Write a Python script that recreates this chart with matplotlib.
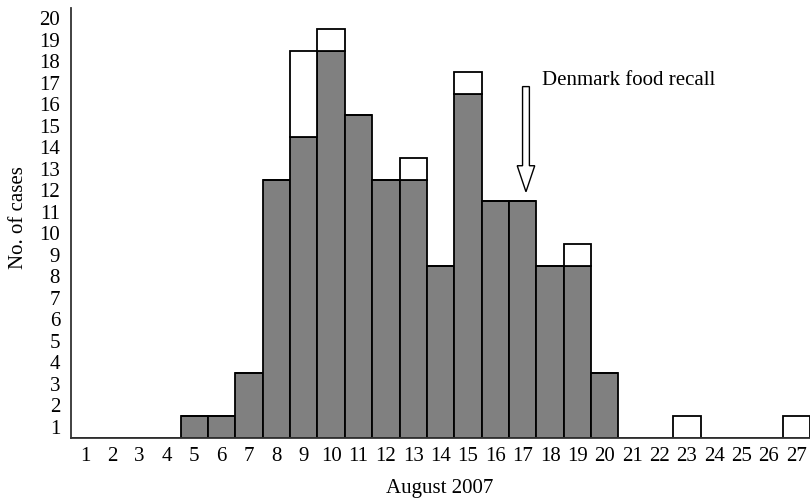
import matplotlib
matplotlib.use("Agg")
import matplotlib.pyplot as plt
from matplotlib.patches import FancyArrow

days = list(range(1, 28))
gray_cases = [0, 0, 0, 0, 1, 1, 3, 12, 14, 18, 15, 12, 12, 8, 16, 11, 11, 8, 8, 3, 0, 0, 0, 0, 0, 0, 0]
white_cases = [0, 0, 0, 0, 0, 0, 0, 0, 4, 1, 0, 0, 1, 0, 1, 0, 0, 0, 1, 0, 0, 0, 1, 0, 0, 0, 1]
y_labels = list(range(1, 21))

plt.rcParams['font.family'] = ['Liberation Serif', 'DejaVu Serif']

fig = plt.figure(figsize=(8.1, 5.0), dpi=100)
left_px, right_px = 71.2, 810.0
ax = fig.add_axes([left_px / 810, 1 - 437.7 / 500, (right_px - left_px) / 810, 430 / 500])

ax.bar(days, gray_cases, width=1.0, color='#808080', edgecolor='black', linewidth=1.3, zorder=2)
ax.bar(days, white_cases, width=1.0, bottom=gray_cases, color='white', edgecolor='black', linewidth=1.3, zorder=2)

ax.set_xlim(0.5, 27.5)
ax.set_ylim(0, 20)
ax.set_xticks(days)
ax.set_xticklabels([str(d) for d in days], fontsize=15)
ax.set_yticks([v - 0.5 for v in y_labels])
ax.set_yticklabels([str(v) for v in y_labels], fontsize=15)
ax.tick_params(axis='both', length=0)
ax.tick_params(axis='y', pad=8)
ax.tick_params(axis='x', pad=7)

for s in ['top', 'right']:
    ax.spines[s].set_visible(False)
for s in ['left', 'bottom']:
    ax.spines[s].set_linewidth(1.3)
    ax.spines[s].set_color('#333333')

ax.set_xlabel('August 2007', fontsize=15, va='center')
ax.set_ylabel('No. of cases', fontsize=15, va='center')
ax.xaxis.set_label_coords(0.499, -0.117)
ax.yaxis.set_label_coords(-0.0707, 0.513)

arrow = FancyArrow(17.12, 16.33, 0, -4.89, width=0.25, head_width=0.64, head_length=1.21,
                   length_includes_head=True, facecolor='white', edgecolor='black',
                   linewidth=1.0, zorder=3)
ax.add_patch(arrow)
ax.text(17.7, 16.6, 'Denmark food recall', fontsize=15, ha='left', va='center')

fig.savefig('out.png', dpi=100)
